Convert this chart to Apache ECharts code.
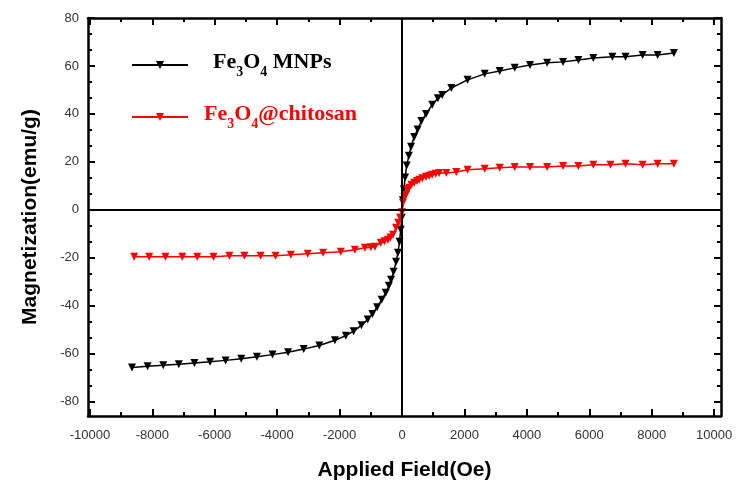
<!DOCTYPE html>
<html>
<head>
<meta charset="utf-8">
<title>Magnetization curves</title>
<script src="https://cdn.jsdelivr.net/npm/echarts@6.0.0/dist/echarts.min.js"></script>
<style>
  html, body { margin: 0; padding: 0; background: #fff; }
  #chart { width: 743px; height: 488px; }
</style>
</head>
<body>
<div id="chart"></div>
<script>
// Fe3O4 MNPs (black)
const fieldMNP = [-8650, -8150, -7650, -7150, -6650, -6150, -5650, -5150, -4650, -4150, -3650, -3150, -2650, -2150,
  -1800, -1550, -1300, -1100, -950, -800, -650, -520, -420, -350, -270, -190, -130, -80, -40, -10,
  30, 60, 100, 150, 220, 290, 390, 500, 620, 770, 970, 1150, 1290, 1580, 2100, 2650, 3130, 3610,
  4100, 4650, 5160, 5650, 6130, 6740, 7160, 7710, 8190, 8710];
const magMNP = [-65.8, -65.3, -64.8, -64.4, -63.9, -63.4, -62.8, -62.1, -61.3, -60.4, -59.4, -58.1, -56.6, -54.4,
  -52.5, -50.6, -48.2, -45.8, -43.5, -40.6, -37.5, -34.6, -31.7, -29.2, -25.8, -21.7, -17.9, -13.3, -8.3, -3.3,
  4, 8.5, 13.5, 18.5, 22.5, 26.3, 30.4, 33.5, 37, 40, 43.8, 46.5, 47.9, 50.8, 54.2, 56.7, 57.9, 59.2,
  60.4, 61.3, 61.7, 62.5, 63.3, 63.8, 63.8, 64.6, 64.6, 65.4];

// Fe3O4@chitosan (red)
const fieldCS = [-8580, -8100, -7580, -7040, -6560, -6040, -5530, -5050, -4530, -4050, -3560, -3020, -2530,
  -1960, -1510, -1190, -1000, -870, -680, -560, -450, -370, -290, -190, -120, -60, 0,
  30, 80, 130, 180, 230, 300, 390, 480, 550, 650, 770, 870, 970, 1080, 1190, 1420, 1740, 2100,
  2650, 3130, 3610, 4100, 4650, 5160, 5650, 6130, 6680, 7160, 7710, 8190, 8710];
const magCS = [-19.6, -19.6, -19.6, -19.6, -19.6, -19.6, -19.2, -19.2, -19.2, -19.2, -18.75, -18.3, -17.9,
  -17.5, -16.7, -15.8, -15.6, -15.4, -13.75, -13.1, -12.5, -11.5, -10.4, -7.5, -5.4, -3.3, -1,
  2.9, 5.2, 6.25, 8.3, 9.2, 10.4, 11.25, 12, 12.5, 13.2, 13.75, 14.2, 14.6, 15, 15.4, 15.4, 15.8, 16.7,
  17.1, 17.5, 17.9, 17.9, 17.9, 18.3, 18.3, 18.75, 18.75, 19.2, 18.75, 19.2, 19.2];

// axis ticks and labels
const xLabels = [-10000, -8000, -6000, -4000, -2000, 0, 2000, 4000, 6000, 8000, 10000];
const xMinor = [-9000, -7000, -5000, -3000, -1000, 1000, 3000, 5000, 7000, 9000];
const yLabels = [-80, -60, -40, -20, 0, 20, 40, 60, 80];
const yMinor = [];
for (let i = 0; i < yLabels.length - 1; i++) {
  yMinor.push(yLabels[i] + 20 / 3, yLabels[i] + 40 / 3);
}

const X_MIN = -10060, X_MAX = 10220, Y_MIN = -86, Y_MAX = 80;

const pairs = (xs, ys) => xs.map((x, i) => [x, ys[i]]);

const chart = echarts.init(document.getElementById('chart'));

const black = '#000';
const frameLine = { show: true, onZero: false, lineStyle: { color: black, width: 2.5 } };
const noLine = { show: false, onZero: false };
const tickStyle = { color: black, width: 2 };
const tickFont = { fontFamily: 'Liberation Sans', fontSize: 13, color: '#333' };

function xAxisDef(position, ticks, len, withLine, withLabel) {
  return {
    type: 'value',
    position: position,
    min: X_MIN,
    max: X_MAX,
    axisLine: withLine ? frameLine : noLine,
    axisTick: { show: true, inside: true, length: len, customValues: ticks, lineStyle: tickStyle },
    axisLabel: withLabel ? Object.assign({
      show: true,
      customValues: xLabels,
      margin: 13,
      formatter: v => String(v)
    }, tickFont) : { show: false },
    splitLine: { show: false }
  };
}

function yAxisDef(position, ticks, len, withLine, withLabel) {
  return {
    type: 'value',
    position: position,
    min: Y_MIN,
    max: Y_MAX,
    axisLine: withLine ? frameLine : noLine,
    axisTick: { show: true, inside: true, length: len, customValues: ticks, lineStyle: tickStyle },
    axisLabel: withLabel ? Object.assign({
      show: true,
      customValues: yLabels,
      margin: 9,
      formatter: v => String(v)
    }, tickFont) : { show: false },
    splitLine: { show: false }
  };
}

const xMain = xAxisDef('bottom', xLabels, 7, true, true);
xMain.name = 'Applied Field(Oe)';
xMain.nameLocation = 'middle';
xMain.nameGap = 44;
xMain.nameTextStyle = { fontFamily: 'Liberation Sans', fontWeight: 'bold', fontSize: 21, color: black };

const yMain = yAxisDef('left', yLabels, 7, true, true);
yMain.name = 'Magnetization(emu/g)';
yMain.nameLocation = 'middle';
yMain.nameGap = 47;
yMain.nameTextStyle = { fontFamily: 'Liberation Sans', fontWeight: 'bold', fontSize: 21, color: black };

const serif = { fontFamily: 'Liberation Serif', fontWeight: 'bold' };
const legendRich = {
  k0: Object.assign({ fontSize: 22, lineHeight: 28, color: black, verticalAlign: 'top', padding: [0, 0, 12, 20] }, serif),
  k: Object.assign({ fontSize: 22, lineHeight: 28, color: black, verticalAlign: 'top', padding: [0, 0, 12, 0] }, serif),
  ks: Object.assign({ fontSize: 14, lineHeight: 14, color: black, verticalAlign: 'top', padding: [14, 0, 0, 0] }, serif),
  r0: Object.assign({ fontSize: 22, lineHeight: 28, color: '#ff0000', verticalAlign: 'top', padding: [0, 0, 12, 11] }, serif),
  r: Object.assign({ fontSize: 22, lineHeight: 28, color: '#ff0000', verticalAlign: 'top', padding: [0, 0, 12, 0] }, serif),
  rs: Object.assign({ fontSize: 14, lineHeight: 14, color: '#ff0000', verticalAlign: 'top', padding: [14, 0, 0, 0] }, serif)
};

const option = {
  animation: false,
  backgroundColor: '#fff',
  grid: { left: 88, right: 22, top: 18, bottom: 72, containLabel: false },
  legend: {
    orient: 'vertical',
    left: 126,
    top: 46,
    itemWidth: 56,
    itemHeight: 10,
    itemGap: 18,
    data: ['Fe₃O₄ MNPs', 'Fe₃O₄@chitosan'],
    formatter: function (name) {
      if (name === 'Fe₃O₄ MNPs') {
        return '{k0|Fe}{ks|3}{k|O}{ks|4}{k| MNPs}';
      }
      return '{r0|Fe}{rs|3}{r|O}{rs|4}{r|@chitosan}';
    },
    textStyle: { rich: legendRich }
  },
  xAxis: [
    xMain,
    xAxisDef('bottom', xMinor, 4, false, false),
    xAxisDef('top', xLabels, 7, true, false),
    xAxisDef('top', xMinor, 4, false, false)
  ],
  yAxis: [
    yMain,
    yAxisDef('left', yMinor, 4, false, false),
    yAxisDef('right', yLabels, 7, true, false),
    yAxisDef('right', yMinor, 4, false, false)
  ],
  series: [
    {
      name: 'Fe₃O₄ MNPs',
      type: 'line',
      data: pairs(fieldMNP, magMNP),
      symbol: 'triangle',
      symbolRotate: 180,
      symbolSize: 8,
      showAllSymbol: true,
      itemStyle: { color: black },
      lineStyle: { color: black, width: 1.5 },
      markLine: {
        silent: true,
        symbol: 'none',
        label: { show: false },
        lineStyle: { color: black, type: 'solid', width: 2 },
        data: [{ xAxis: 0 }, { yAxis: 0 }]
      }
    },
    {
      name: 'Fe₃O₄@chitosan',
      type: 'line',
      data: pairs(fieldCS, magCS),
      symbol: 'triangle',
      symbolRotate: 180,
      symbolSize: 8,
      showAllSymbol: true,
      itemStyle: { color: '#ff0000' },
      lineStyle: { color: '#ff0000', width: 1.5 }
    }
  ]
};

chart.setOption(option);
</script>
</body>
</html>
